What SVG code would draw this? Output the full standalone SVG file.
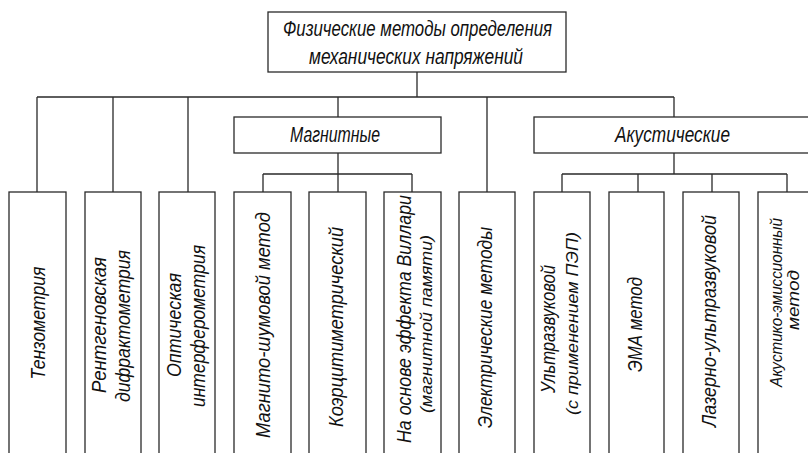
<svg xmlns="http://www.w3.org/2000/svg" width="808" height="453" viewBox="0 0 808 453">
<style>
  .box { fill: #ffffff; stroke: #2a2a2a; stroke-width: 1.3; }
  .ln { fill: none; stroke: #2a2a2a; stroke-width: 1.3; }
  text { font-family: "Liberation Sans", "DejaVu Sans", sans-serif; font-style: italic; fill: #111; text-anchor: middle; }
  .h { font-size: 22px; }
  .v { font-size: 20px; }
  .vs { font-size: 17px; }
</style>
<rect width="808" height="453" fill="#ffffff"/>
<g id="connectors">
  <path class="ln" d="M417,72 V97 M37,97 H674 M37,97 V192 M113,97 V192 M188,97 V192 M338,97 V117 M487,97 V192 M674,97 V117"/>
  <path class="ln" d="M338,153 V174 M263,174 H412 M263,174 V192 M338,174 V192 M412,174 V192"/>
  <path class="ln" d="M674,153 V174 M562,174 H787 M562,174 V192 M638,174 V192 M712,174 V192 M787,174 V192"/>
</g>
<g id="root">
  <rect class="box" x="268" y="12" width="298" height="60"/>
  <text class="h" x="417.5" y="36" textLength="269" lengthAdjust="spacingAndGlyphs">Физические методы определения</text>
  <text class="h" x="416" y="64" textLength="214" lengthAdjust="spacingAndGlyphs">механических напряжений</text>
</g>
<g id="magnetic">
  <rect class="box" x="234" y="117" width="207" height="36"/>
  <text class="h" x="335" y="142" textLength="90" lengthAdjust="spacingAndGlyphs">Магнитные</text>
</g>
<g id="acoustic">
  <rect class="box" x="534" y="117" width="280" height="36"/>
  <text class="h" x="672.5" y="142" textLength="115" lengthAdjust="spacingAndGlyphs">Акустические</text>
</g>
<g id="n1">
  <rect class="box" x="9" y="192" width="57" height="280"/>
  <text class="v" transform="translate(45,323) rotate(-90)" textLength="113" lengthAdjust="spacingAndGlyphs">Тензометрия</text>
</g>
<g id="n2">
  <rect class="box" x="85" y="192" width="56" height="280"/>
  <text class="v" transform="translate(106,325) rotate(-90)" textLength="136" lengthAdjust="spacingAndGlyphs">Рентгеновская</text>
  <text class="v" transform="translate(130,326) rotate(-90)" textLength="152" lengthAdjust="spacingAndGlyphs">дифрактометрия</text>
</g>
<g id="n3">
  <rect class="box" x="159" y="192" width="56" height="280"/>
  <text class="v" transform="translate(181,325) rotate(-90)" textLength="104" lengthAdjust="spacingAndGlyphs">Оптическая</text>
  <text class="v" transform="translate(205,326) rotate(-90)" textLength="162" lengthAdjust="spacingAndGlyphs">интерферометрия</text>
</g>
<g id="n4">
  <rect class="box" x="234" y="192" width="57" height="280"/>
  <text class="v" transform="translate(270,325) rotate(-90)" textLength="226" lengthAdjust="spacingAndGlyphs">Магнито-шумовой метод</text>
</g>
<g id="n5">
  <rect class="box" x="309" y="192" width="57" height="280"/>
  <text class="v" transform="translate(343,327) rotate(-90)" textLength="200" lengthAdjust="spacingAndGlyphs">Коэрцитиметрический</text>
</g>
<g id="n6">
  <rect class="box" x="384" y="192" width="57" height="280"/>
  <text class="v" transform="translate(411,319) rotate(-90)" textLength="248" lengthAdjust="spacingAndGlyphs">На основе эффекта Виллари</text>
  <text class="vs" transform="translate(432,324) rotate(-90)" textLength="178" lengthAdjust="spacingAndGlyphs">(магнитной памяти)</text>
</g>
<g id="n7">
  <rect class="box" x="459" y="192" width="56" height="280"/>
  <text class="v" transform="translate(492,327.5) rotate(-90)" textLength="201" lengthAdjust="spacingAndGlyphs">Электрические методы</text>
</g>
<g id="n8">
  <rect class="box" x="534" y="192" width="56" height="280"/>
  <text class="v" transform="translate(555,329) rotate(-90)" textLength="128" lengthAdjust="spacingAndGlyphs">Ультразвуковой</text>
  <text class="vs" transform="translate(578,323.5) rotate(-90)" textLength="183" lengthAdjust="spacingAndGlyphs">(с применением ПЭП)</text>
</g>
<g id="n9">
  <rect class="box" x="609" y="192" width="55" height="280"/>
  <text class="v" transform="translate(642,324.5) rotate(-90)" textLength="95" lengthAdjust="spacingAndGlyphs">ЭМА метод</text>
</g>
<g id="n10">
  <rect class="box" x="683" y="192" width="56" height="280"/>
  <text class="v" transform="translate(716,321) rotate(-90)" textLength="212" lengthAdjust="spacingAndGlyphs">Лазерно-ультразвуковой</text>
</g>
<g id="n11">
  <rect class="box" x="758" y="192" width="56" height="280"/>
  <text class="vs" transform="translate(782,302.5) rotate(-90)" textLength="169" lengthAdjust="spacingAndGlyphs">Акустико-эмиссионный</text>
  <text class="vs" transform="translate(799,300) rotate(-90)" textLength="60" lengthAdjust="spacingAndGlyphs">метод</text>
</g>
</svg>
